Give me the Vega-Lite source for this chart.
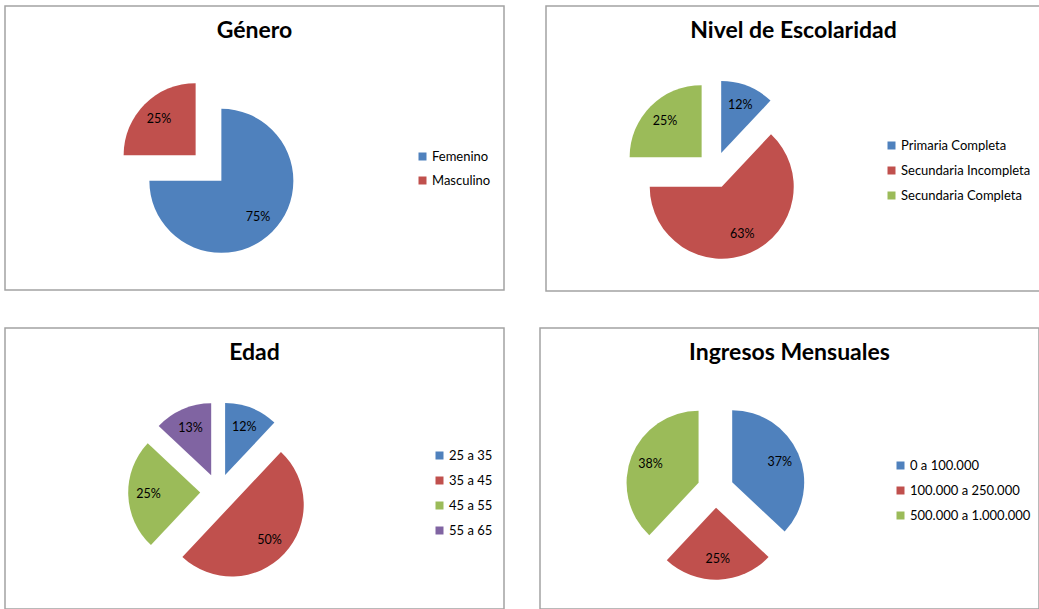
{
  "$schema": "https://vega.github.io/schema/vega-lite/v6.json",
  "padding": {"left": 4, "top": 5, "right": 0, "bottom": 0},
  "autosize": {"type": "pad"},
  "background": "white",
  "config": {
    "view": {"stroke": "#a3a3a3", "strokeWidth": 1.5},
    "font": "Lato",
    "title": {"font": "Lato", "fontSize": 23, "fontWeight": "bold", "color": "black", "anchor": "middle", "frame": "group", "offset": -37, "baseline": "alphabetic"},
    "legend": {"labelFont": "Lato", "labelFontSize": 13, "labelColor": "black", "symbolType": "square", "symbolSize": 64, "symbolStrokeWidth": 0, "rowPadding": 11, "labelOffset": 3, "padding": 0, "title": null},
    "text": {"font": "Lato", "fontSize": 12.5, "color": "black"}
  },
  "resolve": {"scale": {"color": "independent", "theta": "independent"}, "legend": {"color": "independent"}},
  "spacing": 35,
  "vconcat": [
    {
      "spacing": 40,
      "resolve": {"scale": {"color": "independent", "theta": "independent"}, "legend": {"color": "independent"}},
      "hconcat": [
        {
          "width": 499, "height": 284,
          "view": {"stroke": "#a3a3a3", "strokeWidth": 1.5},
          "title": "Género",
          "data": {"values": [
            {"cat": "Femenino", "pct": 0.75},
            {"cat": "Masculino", "pct": 0.25}
          ]},
          "transform": [{"window": [{"op": "row_number", "as": "idx"}]}],
          "encoding": {
            "theta": {"field": "pct", "type": "quantitative", "stack": true},
            "order": {"field": "idx", "type": "quantitative"},
            "color": {"field": "cat", "type": "nominal", "sort": ["Femenino", "Masculino"],
              "scale": {"range": ["#4F81BD", "#C0504D"]},
              "legend": {"orient": "none", "legendX": 411, "legendY": 144, "rowPadding": 10, "title": null}}
          },
          "layer": [
            {"mark": {"type": "arc", "outerRadius": 72, "x": 203.5, "y": 162,
              "xOffset": {"expr": "18.2*sin(PI*(datum.pct_start+datum.pct_end))"},
              "yOffset": {"expr": "-18.2*cos(PI*(datum.pct_start+datum.pct_end))"}}},
            {"mark": {"type": "text", "radius": 70, "x": 203.5, "y": 162},
              "encoding": {"text": {"field": "pct", "type": "quantitative", "format": ".0%"}, "fill": {"value": "black"}}}
          ]
        },
        {
          "width": 495, "height": 285,
          "view": {"stroke": "#a3a3a3", "strokeWidth": 1.5},
          "title": "Nivel de Escolaridad",
          "data": {"values": [
            {"cat": "Primaria Completa", "pct": 0.12},
            {"cat": "Secundaria Incompleta", "pct": 0.63},
            {"cat": "Secundaria Completa", "pct": 0.25}
          ]},
          "transform": [{"window": [{"op": "row_number", "as": "idx"}]}],
          "encoding": {
            "theta": {"field": "pct", "type": "quantitative", "stack": true},
            "order": {"field": "idx", "type": "quantitative"},
            "color": {"field": "cat", "type": "nominal", "sort": ["Primaria Completa", "Secundaria Incompleta", "Secundaria Completa"],
              "scale": {"range": ["#4F81BD", "#C0504D", "#9BBB59"]},
              "legend": {"orient": "none", "legendX": 339, "legendY": 133, "title": null}}
          },
          "layer": [
            {"mark": {"type": "arc", "outerRadius": 72, "x": 168.5, "y": 164,
              "xOffset": {"expr": "18.2*sin(PI*(datum.pct_start+datum.pct_end))"},
              "yOffset": {"expr": "-18.2*cos(PI*(datum.pct_start+datum.pct_end))"}}},
            {"mark": {"type": "text", "radius": 70, "x": 168.5, "y": 164},
              "encoding": {"text": {"field": "pct", "type": "quantitative", "format": ".0%"}, "fill": {"value": "black"}}}
          ]
        }
      ]
    },
    {
      "spacing": 34,
      "resolve": {"scale": {"color": "independent", "theta": "independent"}, "legend": {"color": "independent"}},
      "hconcat": [
        {
          "width": 499, "height": 281,
          "view": {"stroke": "#a3a3a3", "strokeWidth": 1.5},
          "title": "Edad",
          "data": {"values": [
            {"cat": "25 a 35", "pct": 0.12},
            {"cat": "35 a 45", "pct": 0.50},
            {"cat": "45 a 55", "pct": 0.25},
            {"cat": "55 a 65", "pct": 0.13}
          ]},
          "transform": [{"window": [{"op": "row_number", "as": "idx"}]}],
          "encoding": {
            "theta": {"field": "pct", "type": "quantitative", "stack": true},
            "order": {"field": "idx", "type": "quantitative"},
            "color": {"field": "cat", "type": "nominal", "sort": ["25 a 35", "35 a 45", "45 a 55", "55 a 65"],
              "scale": {"range": ["#4F81BD", "#C0504D", "#9BBB59", "#8064A2"]},
              "legend": {"orient": "none", "legendX": 428, "legendY": 121, "title": null}}
          },
          "layer": [
            {"mark": {"type": "arc", "outerRadius": 72, "x": 213.4, "y": 164,
              "xOffset": {"expr": "18.2*sin(PI*(datum.pct_start+datum.pct_end))"},
              "yOffset": {"expr": "-18.2*cos(PI*(datum.pct_start+datum.pct_end))"}}},
            {"mark": {"type": "text", "radius": 70, "x": 213.4, "y": 164},
              "encoding": {"text": {"field": "pct", "type": "quantitative", "format": ".0%"}, "fill": {"value": "black"}}}
          ]
        },
        {
          "width": 499, "height": 281,
          "view": {"stroke": "#a3a3a3", "strokeWidth": 1.5},
          "title": "Ingresos Mensuales",
          "data": {"values": [
            {"cat": "0 a 100.000", "pct": 0.37},
            {"cat": "100.000 a 250.000", "pct": 0.25},
            {"cat": "500.000 a 1.000.000", "pct": 0.38}
          ]},
          "transform": [{"window": [{"op": "row_number", "as": "idx"}]}],
          "encoding": {
            "theta": {"field": "pct", "type": "quantitative", "stack": true},
            "order": {"field": "idx", "type": "quantitative"},
            "color": {"field": "cat", "type": "nominal", "sort": ["0 a 100.000", "100.000 a 250.000", "500.000 a 1.000.000"],
              "scale": {"range": ["#4F81BD", "#C0504D", "#9BBB59"]},
              "legend": {"orient": "none", "legendX": 354, "legendY": 131, "title": null}}
          },
          "layer": [
            {"mark": {"type": "arc", "outerRadius": 72, "x": 175.5, "y": 161.5,
              "xOffset": {"expr": "18.2*sin(PI*(datum.pct_start+datum.pct_end))"},
              "yOffset": {"expr": "-18.2*cos(PI*(datum.pct_start+datum.pct_end))"}}},
            {"mark": {"type": "text", "radius": 70, "x": 175.5, "y": 161.5},
              "encoding": {"text": {"field": "pct", "type": "quantitative", "format": ".0%"}, "fill": {"value": "black"}}}
          ]
        }
      ]
    }
  ]
}
